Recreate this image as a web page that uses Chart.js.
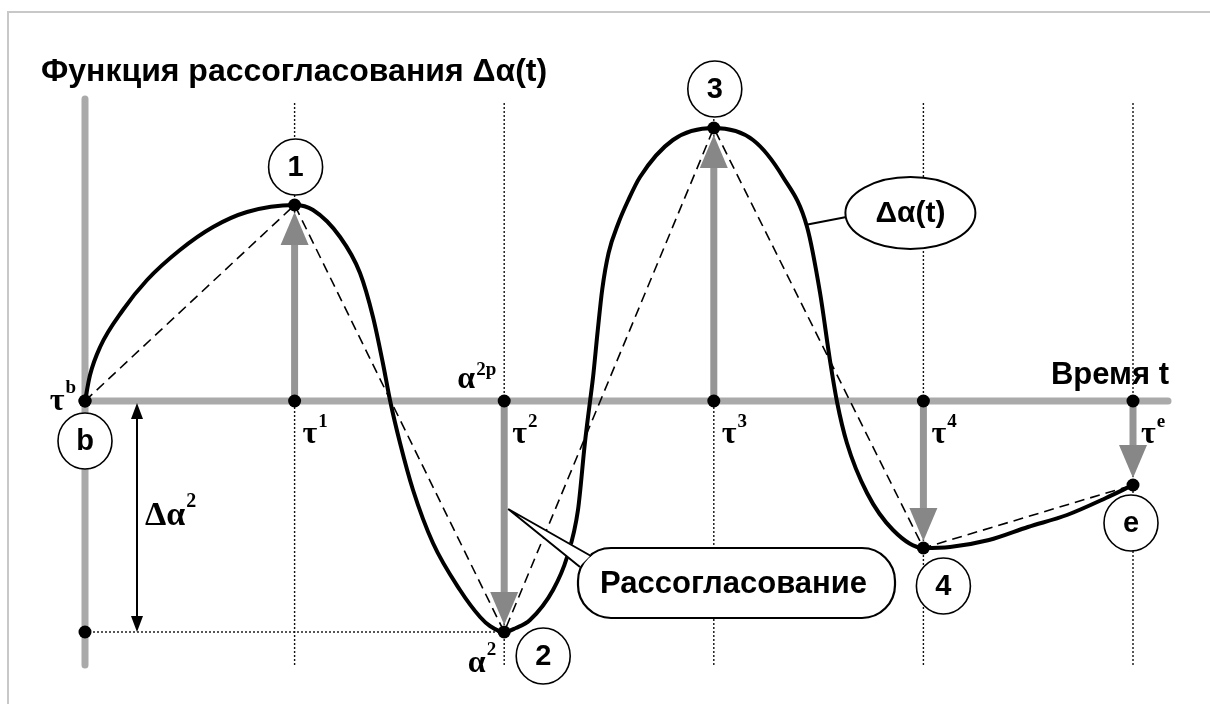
<!DOCTYPE html>
<html>
<head>
<meta charset="utf-8">
<script src="https://cdn.jsdelivr.net/npm/chart.js@4.4.0/dist/chart.umd.min.js"></script>
<style>
  html, body { margin: 0; padding: 0; background: #fff; }
  #wrap { width: 1210px; height: 704px; }
</style>
</head>
<body>
<div id="wrap"><canvas id="diagrama" width="1210" height="704"></canvas></div>
<script>
// моменты времени и значения рассогласования в них
const tau = [0, 1, 2, 3, 4, 5];
const tauNames = ["b", "1", "2", "3", "4", "e"];
const delta = [0, 1.96, -2.31, 2.73, -1.47, -0.84];

// точки кривой Δα(t)
const curveT = [
  0, 0.024, 0.072, 0.181, 0.296, 0.453, 0.611, 0.773, 1,
  1.088, 1.217, 1.312, 1.374, 1.422, 1.455, 1.503, 1.565, 1.66, 1.789, 1.885, 1.932, 2,
  2.056, 2.123, 2.233, 2.3, 2.352, 2.385, 2.409, 2.424, 2.446, 2.468, 2.498, 2.545, 2.59, 2.648, 2.805, 3,
  3.187, 3.33, 3.445, 3.507, 3.554, 3.588, 3.635, 3.731, 3.855, 4,
  4.127, 4.313, 4.499, 4.685, 4.871, 5,
];
const curveV = [
  0, 0.26, 0.54, 0.91, 1.21, 1.51, 1.74, 1.89, 1.96,
  1.91, 1.64, 1.28, 0.84, 0.37, 0.01, -0.42, -0.89, -1.42, -1.89, -2.16, -2.25, -2.31,
  -2.27, -2.19, -1.89, -1.56, -1.09, -0.42, -0.01, 0.24, 0.7, 1.12, 1.48, 1.78, 2.0, 2.24, 2.61, 2.73,
  2.61, 2.24, 1.74, 1.08, 0.41, -0.01, -0.42, -0.92, -1.29, -1.47,
  -1.46, -1.39, -1.26, -1.14, -0.97, -0.84,
];

const titulo = "Функция рассогласования Δα(t)";
const ejeTiempo = "Время t";
const etiquetaCurva = "Δα(t)";
const etiquetaNota = "Рассогласование";

const SANS = '"Liberation Sans", Arial, sans-serif';
const SERIF = '"Liberation Serif", "Times New Roman", serif';

const keyPts = tau.map((t, i) => ({ x: t, y: delta[i] }));
const dots = keyPts
  .concat(tau.map((t) => ({ x: t, y: 0 })))
  .concat([{ x: tau[0], y: delta[2] }]);
const curve = curveT.map((t, i) => ({ x: t, y: curveV[i] }));

function tri(ctx, x, yTip, dir, half, len, color) {
  // dir = 1 -> вниз, -1 -> вверх
  ctx.beginPath();
  ctx.moveTo(x, yTip);
  ctx.lineTo(x - half, yTip - dir * len);
  ctx.lineTo(x + half, yTip - dir * len);
  ctx.closePath();
  ctx.fillStyle = color;
  ctx.fill();
}

function supText(ctx, x, y, base, sup, o) {
  ctx.textAlign = "left";
  ctx.textBaseline = "alphabetic";
  ctx.fillStyle = "#000";
  ctx.font = o.bf;
  const wb = ctx.measureText(base).width;
  ctx.font = o.sf;
  const ws = ctx.measureText(sup).width;
  const x0 = o.align === "right" ? x - wb - ws - 1 : x;
  ctx.font = o.bf;
  ctx.fillText(base, x0, y);
  ctx.font = o.sf;
  ctx.fillText(sup, x0 + wb + 1, y - o.rise);
}

function badge(ctx, cx, cy, txt) {
  ctx.beginPath();
  ctx.ellipse(cx, cy, 27, 28, 0, 0, Math.PI * 2);
  ctx.fillStyle = "#fff";
  ctx.fill();
  ctx.lineWidth = 1.6;
  ctx.strokeStyle = "#000";
  ctx.stroke();
  ctx.fillStyle = "#000";
  ctx.font = "bold 29px " + SANS;
  ctx.textAlign = "center";
  ctx.textBaseline = "middle";
  ctx.fillText(txt, cx, cy + 1);
}

const diagramPlugin = {
  id: "diagram",
  beforeDatasetsDraw(chart) {
    const ctx = chart.ctx;
    const sx = chart.scales.x, sy = chart.scales.y;
    const X = (v) => sx.getPixelForValue(v);
    const Y = (v) => sy.getPixelForValue(v);
    const y0 = Y(0);
    ctx.save();
    // рамка
    ctx.strokeStyle = "#c8c8c8";
    ctx.lineWidth = 2;
    ctx.strokeRect(8, 12, 1400, 900);

    // пунктирные вертикали
    ctx.strokeStyle = "#111";
    ctx.lineWidth = 1.4;
    ctx.setLineDash([2, 2]);
    for (let i = 1; i < tau.length; i++) {
      ctx.beginPath();
      ctx.moveTo(X(tau[i]), 103);
      ctx.lineTo(X(tau[i]), 665);
      ctx.stroke();
    }
    // уровень α2
    ctx.beginPath();
    ctx.moveTo(X(tau[0]), Y(delta[2]));
    ctx.lineTo(X(tau[2]), Y(delta[2]));
    ctx.stroke();
    ctx.setLineDash([]);

    // оси
    ctx.strokeStyle = "#aaaaaa";
    ctx.lineWidth = 7;
    ctx.lineCap = "round";
    ctx.beginPath();
    ctx.moveTo(X(tau[0]), 99);
    ctx.lineTo(X(tau[0]), 665);
    ctx.moveTo(X(tau[0]), y0);
    ctx.lineTo(1168, y0);
    ctx.stroke();
    ctx.lineCap = "butt";

    // стрелки рассогласования
    for (let i = 1; i < tau.length; i++) {
      const x = X(tau[i]);
      const yp = Y(delta[i]);
      const dir = yp > y0 ? 1 : -1;
      const tip = yp - dir * 7;
      const len = 33;
      ctx.strokeStyle = "#959595";
      ctx.lineWidth = 7;
      ctx.beginPath();
      ctx.moveTo(x, y0);
      ctx.lineTo(x, tip - dir * (len - 2));
      ctx.stroke();
      tri(ctx, x, tip, dir, 14, len, "#878787");
    }

    // размер Δα2
    const xa = X(tau[0]) + 52;
    const ya = Y(delta[2]);
    ctx.strokeStyle = "#000";
    ctx.lineWidth = 2;
    ctx.beginPath();
    ctx.moveTo(xa, y0 + 12);
    ctx.lineTo(xa, ya - 12);
    ctx.stroke();
    tri(ctx, xa, y0 + 2, -1, 6, 16, "#000");
    tri(ctx, xa, ya, 1, 6, 16, "#000");
    ctx.restore();
  },
  afterDatasetsDraw(chart) {
    const ctx = chart.ctx;
    const sx = chart.scales.x, sy = chart.scales.y;
    const X = (v) => sx.getPixelForValue(v);
    const Y = (v) => sy.getPixelForValue(v);
    const y0 = Y(0);
    ctx.save();

    // кружки с номерами
    const off = [[0, 40], [1, -38], [39, 24], [1, -39], [20, 38], [-2, 38]];
    tau.forEach((t, i) => {
      badge(ctx, X(t) + off[i][0], Y(delta[i]) + off[i][1], tauNames[i]);
    });

    // подписи τ и α
    const bf = "bold 32px " + SERIF;
    const sf = "bold 19px " + SERIF;
    supText(ctx, X(tau[0]) - 9, y0 + 9, "τ", "b", { bf, sf, rise: 17, align: "right" });
    for (let i = 1; i < tau.length; i++) {
      const sup = i === tau.length - 1 ? "e" : String(i);
      supText(ctx, X(tau[i]) + 8, y0 + 42, "τ", sup, { bf, sf, rise: 16 });
    }
    supText(ctx, X(tau[2]) - 8, y0 - 13, "α", "2p", { bf, sf, rise: 13, align: "right" });
    supText(ctx, X(tau[2]) - 8, Y(delta[2]) + 40, "α", "2", { bf, sf, rise: 17, align: "right" });
    supText(ctx, X(tau[0]) + 60, 525, "Δα", "2", {
      bf: "bold 34px " + SERIF, sf: "bold 20px " + SERIF, rise: 18,
    });

    // заголовок и подпись оси
    ctx.fillStyle = "#000";
    ctx.textBaseline = "alphabetic";
    ctx.textAlign = "left";
    ctx.font = "bold 32px " + SANS;
    ctx.fillText(titulo, 41, 81);
    ctx.textAlign = "right";
    ctx.font = "bold 31px " + SANS;
    ctx.fillText(ejeTiempo, 1169, 384);

    // выноска Δα(t)
    const ex = X(tau[4]) - 13, ey = 213;
    ctx.strokeStyle = "#000";
    ctx.lineWidth = 2;
    ctx.beginPath();
    ctx.moveTo(805, 225);
    ctx.lineTo(ex - 64, 217);
    ctx.stroke();
    ctx.beginPath();
    ctx.ellipse(ex, ey, 65, 36, 0, 0, Math.PI * 2);
    ctx.fillStyle = "#fff";
    ctx.fill();
    ctx.stroke();
    ctx.fillStyle = "#000";
    ctx.font = "bold 30px " + SANS;
    ctx.textAlign = "center";
    ctx.textBaseline = "middle";
    ctx.fillText(etiquetaCurva, ex, ey + 1);

    // выноска «Рассогласование»
    const bx = 578, by = 548, bw = 317, bh = 70, r = 33;
    ctx.beginPath();
    ctx.roundRect(bx, by, bw, bh, r);
    ctx.fillStyle = "#fff";
    ctx.fill();
    ctx.lineWidth = 2.2;
    ctx.stroke();
    const tipX = X(tau[2]) + 4, tipY = 509;
    ctx.beginPath();
    ctx.moveTo(tipX, tipY);
    ctx.lineTo(591, 555);
    ctx.lineTo(579, 567);
    ctx.closePath();
    ctx.fillStyle = "#fff";
    ctx.fill();
    ctx.beginPath();
    ctx.moveTo(591, 556);
    ctx.lineTo(tipX, tipY);
    ctx.lineTo(580, 567);
    ctx.lineWidth = 2;
    ctx.stroke();
    ctx.fillStyle = "#000";
    ctx.font = "bold 31px " + SANS;
    ctx.textAlign = "center";
    ctx.textBaseline = "middle";
    ctx.fillText(etiquetaNota, bx + bw / 2 - 3, by + bh / 2 + 1);
    ctx.restore();
  },
};

const pxPerT = 209.6, x0px = 85;
const pxPerV = 100, y0px = 401;

new Chart(document.getElementById("diagrama"), {
  type: "scatter",
  data: {
    datasets: [
      {
        data: dots,
        pointRadius: 6.5,
        pointBackgroundColor: "#000",
        pointBorderWidth: 0,
        showLine: false,
      },
      {
        data: curve,
        showLine: true,
        borderColor: "#000",
        borderWidth: 4,
        pointRadius: 0,
        cubicInterpolationMode: "monotone",
        fill: false,
      },
      {
        data: keyPts,
        showLine: true,
        borderColor: "#000",
        borderWidth: 1.6,
        borderDash: [10, 6],
        pointRadius: 0,
        fill: false,
      },
    ],
  },
  options: {
    responsive: false,
    animation: false,
    events: [],
    layout: { autoPadding: false, padding: 0 },
    plugins: { legend: { display: false }, tooltip: { enabled: false } },
    scales: {
      x: { type: "linear", display: false, min: -x0px / pxPerT, max: (1210 - x0px) / pxPerT },
      y: { type: "linear", display: false, min: -(704 - y0px) / pxPerV, max: y0px / pxPerV },
    },
  },
  plugins: [diagramPlugin],
});
</script>
</body>
</html>
